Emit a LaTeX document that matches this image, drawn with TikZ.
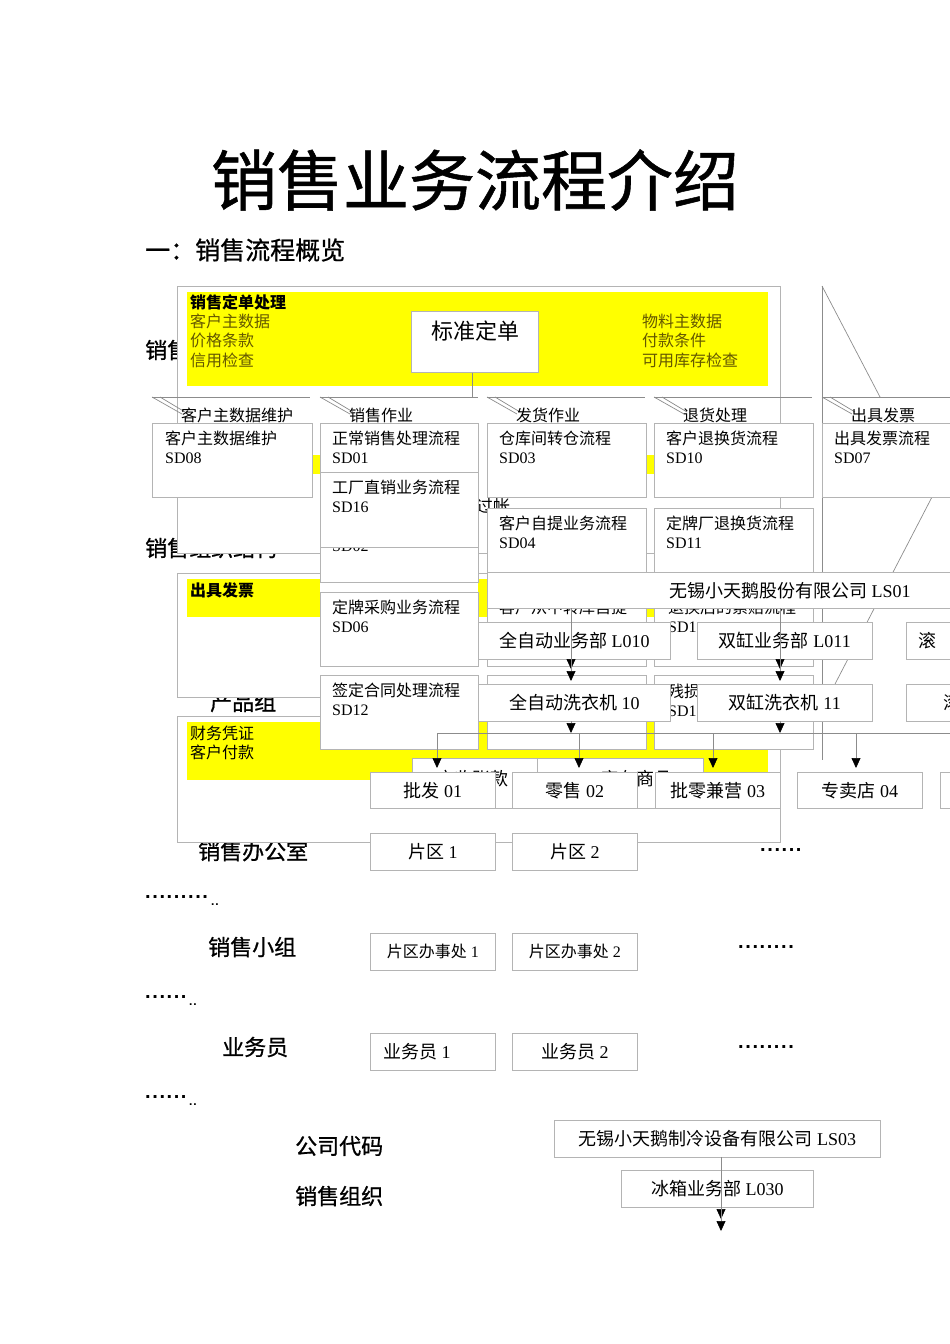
\documentclass[tikz,border=0pt]{standalone}
\usepackage{fontspec}
\setmainfont{Liberation Serif}
\newfontfamily\cjk{Noto Sans CJK SC}
\newfontfamily\hei{Noto Sans CJK SC}[FakeBold=0.8]
\newfontfamily\dotf{Liberation Sans}[LetterSpace=8]
\usetikzlibrary{arrows.meta}
\definecolor{bgray}{RGB}{180,180,180}
\definecolor{lgray}{RGB}{140,140,140}
\definecolor{ylw}{RGB}{255,255,0}
\definecolor{ytext}{RGB}{100,88,0}
\tikzset{
  box/.style={draw=bgray, fill=white, line width=0.8pt, inner sep=0pt},
  pbox/.style={box, anchor=north west},
  ptext/.style={anchor=north west, align=left, inner sep=0pt, font=\fontsize{16}{19}\selectfont},
  otext/.style={font=\fontsize{18}{20}\selectfont},
  frame/.style={draw=bgray, fill=white, line width=0.8pt, inner sep=0pt, anchor=north west},
  head/.style={anchor=west, inner sep=0pt, font=\hei\fontsize{22}{24}\selectfont},
  btxt/.style={anchor=west, inner sep=0pt, font=\cjk\fontsize{16}{18}\selectfont},
  tabtxt/.style={anchor=west, inner sep=0pt, font=\cjk\fontsize{16}{18}\selectfont},
  conn/.style={draw=lgray, line width=0.7pt},
  arr/.style={conn, -{Triangle[width=9pt,length=10pt,color=black]}},
  dots/.style={anchor=base west, inner sep=0pt, font=\dotf\bfseries\fontsize{20}{20}\selectfont},
  sdots/.style={anchor=base west, inner sep=0pt, font=\dotf\bfseries\fontsize{12}{12}\selectfont},
}
\begin{document}
\begin{tikzpicture}[x=1pt,y=-1pt]
\useasboundingbox (0,0) rectangle (950,1344);
\clip (0,0) rectangle (950,1344);

% titles
\node[font=\hei\fontsize{66}{70}\selectfont, inner sep=0pt] (title) at (475,180) {销售业务流程介绍};
\node[anchor=west, inner sep=0pt, font=\hei\fontsize{25}{27}\selectfont] (sub) at (145,250) {一：销售流程概览};

% partly hidden headings
\node[head] (h1) at (145,350) {销售};
\node[head] (h2) at (145,548) {销售组织结构};
\node[head] (h3) at (210,702) {产品组};
\node[head] (h4) at (198,851) {销售办公室};

% box 1: sales order
\node[frame, minimum width=603pt, minimum height=267pt] (box1) at (177,286) {};
\fill[ylw] (187,292) rectangle (768,386);
\node[anchor=west, inner sep=0pt, font=\cjk\bfseries\fontsize{16}{18}\selectfont] (b1t) at (190,302) {销售定单处理};
\node[btxt, text=ytext] (b1a) at (190,321) {客户主数据};
\node[btxt, text=ytext] (b1b) at (190,340) {价格条款};
\node[btxt, text=ytext] (b1c) at (190,360) {信用检查};
\node[btxt, text=ytext] (b1d) at (642,321) {物料主数据};
\node[btxt, text=ytext] (b1e) at (642,340) {付款条件};
\node[btxt, text=ytext] (b1f) at (642,360) {可用库存检查};
\node[pbox, minimum width=127pt, minimum height=61pt] (std) at (411,311) {};
\node[inner sep=0pt, font=\cjk\fontsize{22}{24}\selectfont] (stdt) at (475,331) {标准定单};
\coordinate (stdend) at (472,397);
\draw[conn] (std.south -| stdend) -- (stdend);

% hidden second band
\fill[ylw] (187,455) rectangle (478,474);
\fill[ylw] (646,455) rectangle (768,474);
\node[anchor=west, inner sep=0pt, font=\cjk\fontsize{17}{18}\selectfont] (gz) at (476,506) {过帐};

% box 2: invoice
\node[frame, minimum width=603pt, minimum height=124pt] (box2) at (177,573) {};
\fill[ylw] (187,579) rectangle (320,617);
\fill[ylw] (478,579) rectangle (768,617);
\node[anchor=west, inner sep=0pt, font=\cjk\bfseries\fontsize{16}{18}\selectfont] (b2t) at (190,590) {出具发票};

% box 3: finance
\node[frame, minimum width=603pt, minimum height=126pt] (box3) at (177,716) {};
\fill[ylw] (187,722) rectangle (768,780);
\node[btxt] (b3a) at (190,733) {财务凭证};
\node[btxt] (b3b) at (190,752) {客户付款};

% right side lines
\draw[conn] (822,286) -- (822,760);
\draw[conn] (822,286) -- (880,397);
\draw[conn] (932,497) -- (835,684);

% tabs
\foreach \xl/\lbl/\nm in {152/客户主数据维护/t1, 320/销售作业/t2, 487/发货作业/t3, 654/退货处理/t4, 822/出具发票/t5} {
  \draw[conn] (\xl,397) -- (\xl+158,397);
  \draw[conn] (\xl,397) -- (\xl+30,414);
  \draw[conn] (\xl+8,397) -- (\xl+33,412);
  \node[tabtxt] (\nm) at (\xl+29,415) {\lbl};
}

% process boxes
\node[pbox, minimum width=160pt, minimum height=74pt] (sd08) at (152,423) {};
\node[ptext] (sd08t) at ([xshift=13pt,yshift=-8pt]sd08.north west) {{\cjk 客户主数据维护}\\SD08};
\node[pbox, minimum width=158pt, minimum height=110pt] (sd02) at (320,472) {};
\node[ptext] (sd02t) at ([xshift=12pt,yshift=-69pt]sd02.north west) {SD02};
\node[pbox, minimum width=158pt, minimum height=49pt] (sd01) at (320,423) {};
\node[ptext] (sd01t) at ([xshift=12pt,yshift=-8pt]sd01.north west) {{\cjk 正常销售处理流程}\\SD01};
\node[pbox, minimum width=158pt, minimum height=75pt] (sd16) at (320,472) {};
\node[ptext] (sd16t) at ([xshift=12pt,yshift=-8pt]sd16.north west) {{\cjk 工厂直销业务流程}\\SD16};
\node[pbox, minimum width=159pt, minimum height=74pt] (sd03) at (487,423) {};
\node[ptext] (sd03t) at ([xshift=12pt,yshift=-8pt]sd03.north west) {{\cjk 仓库间转仓流程}\\SD03};
\node[pbox, minimum width=159pt, minimum height=75pt] (sd04) at (487,508) {};
\node[ptext] (sd04t) at ([xshift=12pt,yshift=-8pt]sd04.north west) {{\cjk 客户自提业务流程}\\SD04};
\node[pbox, minimum width=159pt, minimum height=74pt] (sd10) at (654,423) {};
\node[ptext] (sd10t) at ([xshift=12pt,yshift=-8pt]sd10.north west) {{\cjk 客户退换货流程}\\SD10};
\node[pbox, minimum width=159pt, minimum height=75pt] (sd11) at (654,508) {};
\node[ptext] (sd11t) at ([xshift=12pt,yshift=-8pt]sd11.north west) {{\cjk 定牌厂退换货流程}\\SD11};
\node[pbox, minimum width=150pt, minimum height=74pt] (sd07) at (822,423) {};
\node[ptext] (sd07t) at ([xshift=12pt,yshift=-8pt]sd07.north west) {{\cjk 出具发票流程}\\SD07};
\node[pbox, minimum width=158pt, minimum height=74pt] (sd06) at (320,592) {};
\node[ptext] (sd06t) at ([xshift=12pt,yshift=-8pt]sd06.north west) {{\cjk 定牌采购业务流程}\\SD06};
\node[pbox, minimum width=158pt, minimum height=74pt] (sd12) at (320,675) {};
\node[ptext] (sd12t) at ([xshift=12pt,yshift=-8pt]sd12.north west) {{\cjk 签定合同处理流程}\\SD12};
\node[pbox, minimum width=159pt, minimum height=74pt] (hx3a) at (487,592) {};
\node[ptext] (hx3at) at ([xshift=12pt,yshift=-8pt]hx3a.north west) {{\cjk 客户从中转库自提}};
\node[pbox, minimum width=159pt, minimum height=74pt] (hx3b) at (654,592) {};
\node[ptext] (hx3bt) at ([xshift=14pt,yshift=-8pt]hx3b.north west) {{\cjk 退换后的索赔流程}\\SD1};
\node[pbox, minimum width=159pt, minimum height=74pt] (hx4a) at (487,675) {};
\node[pbox, minimum width=159pt, minimum height=74pt] (hx4b) at (654,675) {};
\node[ptext] (hx4bt) at ([xshift=14pt,yshift=-9pt]hx4b.north west) {{\cjk 残损}\\SD1};

% organisation
\node[pbox, otext, minimum width=605pt, minimum height=36pt] (ls01) at (487,572) {{\cjk 无锡小天鹅股份有限公司} LS01};
\node[pbox, otext, minimum width=192pt, minimum height=37pt] (l010) at (478,622) {{\cjk 全自动业务部} L010};
\node[pbox, otext, minimum width=175pt, minimum height=37pt] (l011) at (697,622) {{\cjk 双缸业务部} L011};
\node[pbox, minimum width=190pt, minimum height=37pt] (gt1) at (906,622) {};
\node[anchor=west, inner sep=0pt, otext] (gt1t) at (918,640.5) {\cjk 滚};
\node[pbox, otext, minimum width=192pt, minimum height=37pt] (w10) at (478,684) {{\cjk 全自动洗衣机} 10};
\node[pbox, otext, minimum width=175pt, minimum height=37pt] (w11) at (697,684) {{\cjk 双缸洗衣机} 11};
\node[pbox, minimum width=190pt, minimum height=37pt] (gt2) at (906,684) {};
\node[anchor=west, inner sep=0pt, otext] (gt2t) at (943,702.5) {\cjk 滚};

\coordinate (v1a) at (571,608); \coordinate (v1b) at (571,669);
\coordinate (v1c) at (571,659); \coordinate (v1d) at (571,681);
\coordinate (v1e) at (571,721); \coordinate (v1f) at (571,733);
\coordinate (v2a) at (780,608); \coordinate (v2b) at (780,669);
\coordinate (v2c) at (780,659); \coordinate (v2d) at (780,681);
\coordinate (v2e) at (780,721); \coordinate (v2f) at (780,733);
\draw[arr] (v1a) -- (v1b);
\draw[arr] (v1c) -- (v1d);
\draw[arr] (v1e) -- (v1f);
\draw[arr] (v2a) -- (v2b);
\draw[arr] (v2c) -- (v2d);
\draw[arr] (v2e) -- (v2f);

% bottom hidden finance boxes
\node[pbox, minimum width=125pt, minimum height=50pt] (ysk) at (412,758) {};
\node[inner sep=0pt, otext] (yskt) at (472,779) {\cjk 应收账款};
\node[pbox, minimum width=166pt, minimum height=50pt] (kcsp) at (537,758) {};
\node[inner sep=0pt, otext] (kcspt) at (636,779) {\cjk 库存商品};

% distribution channels
\node[pbox, otext, minimum width=125pt, minimum height=36pt] (pf) at (370,772) {{\cjk 批发} 01};
\node[pbox, otext, minimum width=125pt, minimum height=36pt] (lsh) at (512,772) {{\cjk 零售} 02};
\node[pbox, otext, minimum width=125pt, minimum height=36pt] (plj) at (655,772) {{\cjk 批零兼营} 03};
\node[pbox, otext, minimum width=125pt, minimum height=36pt] (zmd) at (797,772) {{\cjk 专卖店} 04};
\node[pbox, minimum width=125pt, minimum height=36pt] (ch5) at (940,772) {};

\coordinate (hl) at (437,733);
\coordinate (hr) at (950,733);
\coordinate (hb) at (579,733);
\coordinate (hc) at (713,733);
\coordinate (hd) at (856,733);
\draw[conn] (hl) -- (hr);
\draw[arr, shorten >=4pt] (hl) -- (pf.north -| hl);
\draw[arr, shorten >=4pt] (hb) -- (lsh.north -| hb);
\draw[arr, shorten >=4pt] (hc) -- (plj.north -| hc);
\draw[arr, shorten >=4pt] (hd) -- (zmd.north -| hd);

% sales offices
\node[pbox, otext, minimum width=125pt, minimum height=37pt] (pq1) at (370,833) {{\cjk 片区} 1};
\node[pbox, otext, minimum width=125pt, minimum height=37pt] (pq2) at (512,833) {{\cjk 片区} 2};
\node[dots] (d1) at (760,851) {......};

\node[dots] (d2) at (145,898) {.........};
\node[sdots] (d2s) at (211,905) {..};

% sales groups
\node[head] (h5) at (208,947) {销售小组};
\node[pbox, minimum width=125pt, minimum height=37pt, font=\fontsize{16}{18}\selectfont] (bs1) at (370,933) {{\cjk 片区办事处} 1};
\node[pbox, minimum width=125pt, minimum height=37pt, font=\fontsize{16}{18}\selectfont] (bs2) at (512,933) {{\cjk 片区办事处} 2};
\node[dots] (d3) at (738,948) {........};

\node[dots] (d4) at (145,998) {......};
\node[sdots] (d4s) at (189,1005) {..};

% sales staff
\node[head] (h6) at (222,1047) {业务员};
\node[pbox, minimum width=125pt, minimum height=37pt] (yw1) at (370,1033) {};
\node[anchor=west, inner sep=0pt, otext] (yw1t) at (383,1051.5) {{\cjk 业务员} 1};
\node[pbox, otext, minimum width=125pt, minimum height=37pt] (yw2) at (512,1033) {{\cjk 业务员} 2};
\node[dots] (d5) at (738,1048) {........};

\node[dots] (d6) at (145,1098) {......};
\node[sdots] (d6s) at (189,1105) {..};

% company code
\node[head] (h7) at (295,1146) {公司代码};
\node[head] (h8) at (295,1196) {销售组织};
\node[pbox, otext, minimum width=326pt, minimum height=37pt] (ls03) at (554,1120) {{\cjk 无锡小天鹅制冷设备有限公司} LS03};
\node[pbox, otext, minimum width=192pt, minimum height=37pt] (l030) at (621,1170) {{\cjk 冰箱业务部} L030};
\coordinate (v3a) at (721,1157); \coordinate (v3b) at (721,1219);
\coordinate (v3c) at (721,1207); \coordinate (v3d) at (721,1231);
\draw[arr] (v3a) -- (v3b);
\draw[arr] (v3c) -- (v3d);
\end{tikzpicture}
\end{document}
